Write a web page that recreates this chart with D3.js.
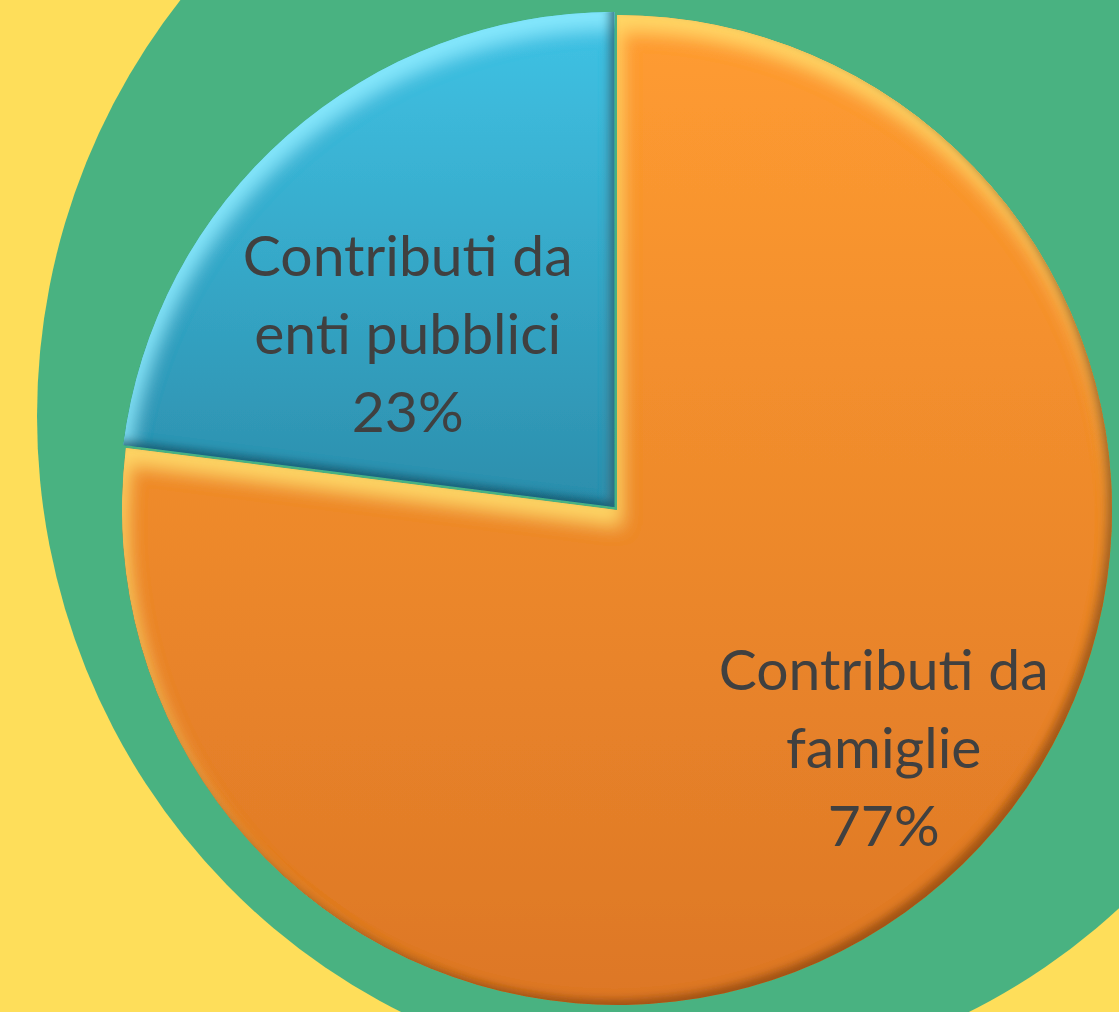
<!DOCTYPE html>
<html>
<head>
<meta charset="utf-8">
<script src="https://cdn.jsdelivr.net/npm/d3@7"></script>
<style>
  html, body { margin:0; padding:0; background:#FEDE5A; overflow:hidden; }
  svg { display:block; }
  .lbl { font-family: Lato, "Open Sans", sans-serif; fill:#404040; }
</style>
</head>
<body>
<div class="pie-chart"></div>
<script>
// 資料
const categories = ['Contributi da famiglie', 'Contributi da enti pubblici'];
const labelLines = [['Contributi da', 'famiglie'], ['Contributi da', 'enti pubblici']];
const shares = [77, 23];
const sliceColors = [
  {top:'#FF9C31', bottom:'#DD7726', light:'#FFDC6A', dark:'#8A4410'},
  {top:'#40C3E5', bottom:'#2C8EAC', light:'#8AEBFF', dark:'#12485C'}
];

// 畫布設定
const svg_width = 1119;
const svg_height = 1012;
const center = {x:617, y:510};
const radius = 495;
const explode = 4;

const svg = d3.select('.pie-chart').append('svg')
  .attr('width', svg_width).attr('height', svg_height);

// 背景：黃底 + 綠色大圓
svg.append('rect').attr('width', svg_width).attr('height', svg_height).attr('fill', '#FEDE5A');
svg.append('ellipse')
  .attr('cx', 685).attr('cy', 416).attr('rx', 648).attr('ry', 663)
  .attr('fill', '#49B281');

const defs = svg.append('defs');

// 每個扇形的漸層 + 立體斜角濾鏡
sliceColors.forEach((c, i) => {
  const g = defs.append('linearGradient').attr('id', 'grad' + i)
    .attr('x1', 0).attr('y1', 0).attr('x2', 0).attr('y2', 1);
  g.append('stop').attr('offset', '0%').attr('stop-color', c.top);
  g.append('stop').attr('offset', '100%').attr('stop-color', c.bottom);

  const f = defs.append('filter').attr('id', 'bevel' + i)
    .attr('x', '-5%').attr('y', '-5%').attr('width', '110%').attr('height', '110%');
  f.append('feGaussianBlur').attr('in', 'SourceAlpha').attr('stdDeviation', 9).attr('result', 'blur');
  f.append('feOffset').attr('in', 'blur').attr('dx', 4).attr('dy', 16).attr('result', 'down');
  f.append('feComposite').attr('in', 'SourceAlpha').attr('in2', 'down')
    .attr('operator', 'arithmetic').attr('k2', 1).attr('k3', -1).attr('result', 'hiMask');
  f.append('feFlood').attr('flood-color', c.light).attr('flood-opacity', 0.9);
  f.append('feComposite').attr('in2', 'hiMask').attr('operator', 'in').attr('result', 'hi');

  f.append('feGaussianBlur').attr('in', 'SourceAlpha').attr('stdDeviation', 4).attr('result', 'blur2');
  f.append('feOffset').attr('in', 'blur2').attr('dx', -6).attr('dy', -6).attr('result', 'up');
  f.append('feComposite').attr('in', 'SourceAlpha').attr('in2', 'up')
    .attr('operator', 'arithmetic').attr('k2', 1).attr('k3', -1).attr('result', 'shMask');
  f.append('feFlood').attr('flood-color', c.dark).attr('flood-opacity', 0.8);
  f.append('feComposite').attr('in2', 'shMask').attr('operator', 'in').attr('result', 'sh');

  const m = f.append('feMerge');
  m.append('feMergeNode').attr('in', 'SourceGraphic');
  m.append('feMergeNode').attr('in', 'hi');
  m.append('feMergeNode').attr('in', 'sh');
});

// 圓餅圖
const pie = d3.pie().sort(null).value(d => d);
const arcs = pie(shares);
const arc = d3.arc().innerRadius(0).outerRadius(radius);

const chart = svg.append('g').attr('transform', `translate(${center.x},${center.y})`);

const slices = chart.selectAll('.slice').data(arcs).join('g')
  .attr('class', 'slice')
  .attr('transform', (d, i) => {
    if (i === 0) return null;
    const mid = (d.startAngle + d.endAngle) / 2;
    return `translate(${Math.sin(mid) * explode},${-Math.cos(mid) * explode})`;
  });

slices.append('path')
  .attr('d', arc)
  .attr('fill', (d, i) => `url(#grad${i})`)
  .attr('filter', (d, i) => `url(#bevel${i})`);

// 標籤位置：用 centroid 方向，再做小幅調整
const labelArc = d3.arc().innerRadius(0).outerRadius(radius);
const labelNudge = [[103, 52], [-43, 13]];
const fontSize = 57;
const lineH = 78;

slices.each(function(d, i) {
  const [cx, cy] = labelArc.centroid(d);
  const x = cx + labelNudge[i][0];
  const y = cy + labelNudge[i][1];
  const lines = labelLines[i].concat([shares[i] + '%']);
  const t = d3.select(this).append('text').attr('class', 'lbl')
    .attr('text-anchor', 'middle').style('font-size', fontSize + 'px');
  lines.forEach((s, k) => {
    t.append('tspan').attr('x', x)
      .attr('y', y + (k - (lines.length - 1) / 2) * lineH + fontSize * 0.35)
      .text(s);
  });
});
</script>
</body>
</html>
